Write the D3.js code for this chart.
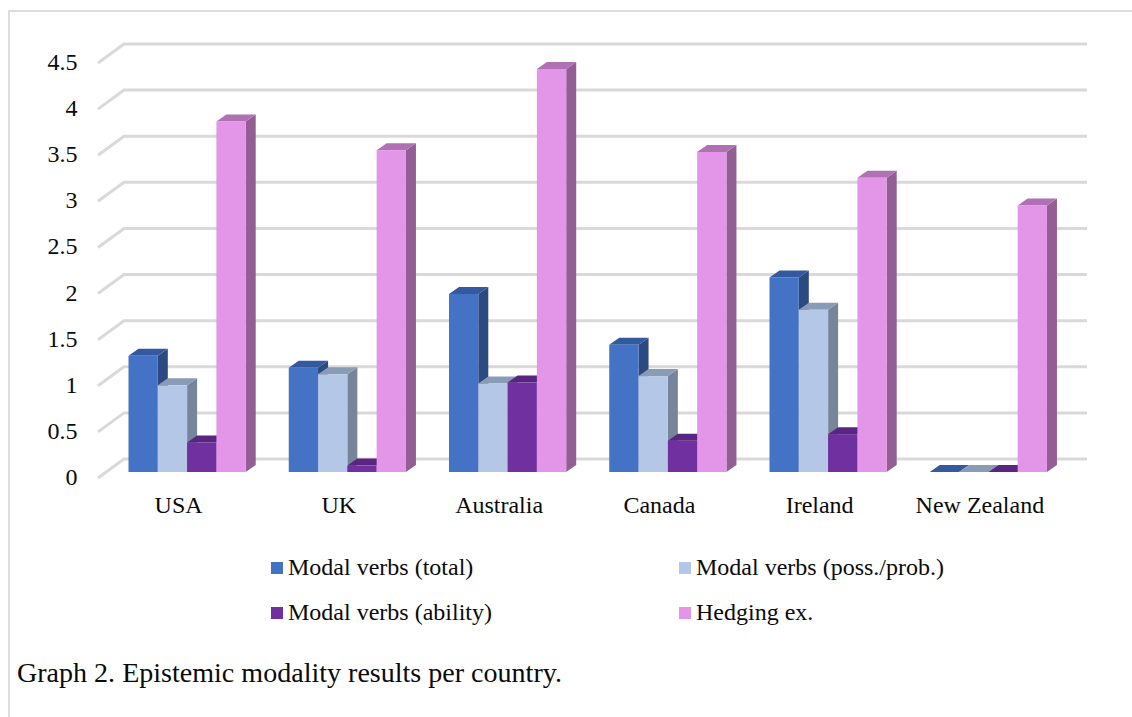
<!DOCTYPE html>
<html>
<head>
<meta charset="utf-8">
<script src="https://cdn.jsdelivr.net/npm/d3@7"></script>
<style>
  html, body { margin: 0; background: #fff; }
  text { font-family: "Liberation Serif", "Times New Roman", serif; fill: #0a0a0a; }
</style>
</head>
<body>
<svg id="chart" width="1132" height="717"></svg>
<script>
// Epistemic modality counts per country, one array per series
const countries = ["USA", "UK", "Australia", "Canada", "Ireland", "New Zealand"];
const modalTotal = [1.26, 1.13, 1.93, 1.38, 2.11, 0];
const modalPossProb = [0.94, 1.06, 0.96, 1.04, 1.76, 0];
const modalAbility = [0.32, 0.07, 0.97, 0.34, 0.41, 0];
const hedging = [3.80, 3.49, 4.37, 3.47, 3.19, 2.89];
const yTicks = [0, 0.5, 1, 1.5, 2, 2.5, 3, 3.5, 4, 4.5];
const seriesNames = ["Modal verbs (total)", "Modal verbs (poss./prob.)", "Modal verbs (ability)", "Hedging ex."];
const seriesValues = [modalTotal, modalPossProb, modalAbility, hedging];
const frontColors = ["#4472c4", "#b4c7e7", "#7030a0", "#e395e8"];
const topColors = ["#335a9e", "#8a9bb5", "#5a2580", "#b071b4"];
const sideColors = ["#2b4a82", "#76859a", "#4e206f", "#925e94"];
const caption = "Graph 2. Epistemic modality results per country.";

const svg = d3.select("#chart");

// Outer frame: only the top and left edges fall inside the page
svg.append("path")
  .attr("d", "M9,717V11H1132")
  .attr("fill", "none")
  .attr("stroke", "#dcdcdc")
  .attr("stroke-width", 2);

// Bar front faces stand on y = 472; the wall and floor sit behind them
const y = d3.scaleLinear().domain([0, 4.5]).range([472, 57]);
const x = d3.scaleBand().domain(countries).range([98, 1059.5]);
const groupInset = 30.5;
const inner = d3.scaleBand().domain(d3.range(seriesNames.length))
  .range([groupInset, groupInset + 117.2]);
const barDepthX = 10, barDepthY = 7;
const wallDepthX = 26, wallBackY = -13, wallFrontY = 6, wallRight = 1087;

// Gridlines fold from the floor edge back onto the wall
const grid = svg.append("g").attr("fill", "none");
grid.selectAll("path").data(yTicks).join("path")
  .attr("d", t => d3.line()([
    [x.range()[0], y(t) + wallFrontY],
    [x.range()[0] + wallDepthX, y(t) + wallBackY],
    [wallRight, y(t) + wallBackY]
  ]))
  .attr("stroke", "#d9d9d9")
  .attr("stroke-width", 3);

// Value labels on the left
svg.append("g").selectAll("text").data(yTicks).join("text")
  .attr("x", 77.5)
  .attr("y", t => y(t) + 13)
  .attr("text-anchor", "end")
  .attr("font-size", 24)
  .text(t => t);

// Extruded bars, drawn left to right so each one covers its neighbour's side
const polygon = pts => d3.line()(pts) + "Z";
countries.forEach((country, c) => {
  const g = svg.append("g");
  seriesValues.forEach((values, s) => {
    const x0 = x(country) + inner(s);
    const x1 = x0 + inner.bandwidth();
    const yTop = y(values[c]);
    const yBase = y(0);
    g.append("path").attr("fill", sideColors[s]).attr("d", polygon([
      [x1, yTop], [x1 + barDepthX, yTop - barDepthY],
      [x1 + barDepthX, yBase - barDepthY], [x1, yBase]
    ]));
    g.append("path").attr("fill", topColors[s]).attr("d", polygon([
      [x0, yTop], [x0 + barDepthX, yTop - barDepthY],
      [x1 + barDepthX, yTop - barDepthY], [x1, yTop]
    ]));
    g.append("rect").attr("fill", frontColors[s])
      .attr("x", x0).attr("y", yTop)
      .attr("width", inner.bandwidth()).attr("height", yBase - yTop);
  });
});

// Country names under the floor
svg.append("g").selectAll("text").data(countries).join("text")
  .attr("x", d => x(d) + x.bandwidth() / 2 + 0.5)
  .attr("y", 513)
  .attr("text-anchor", "middle")
  .attr("font-size", 24)
  .text(d => d);

// Two-column legend
const legendCols = [271, 679], legendRows = [562, 607];
const legend = svg.append("g").selectAll("g").data(seriesNames).join("g")
  .attr("transform", (d, i) => `translate(${legendCols[i % 2]},${legendRows[Math.floor(i / 2)]})`);
legend.append("rect")
  .attr("width", 12).attr("height", 12)
  .attr("fill", (d, i) => frontColors[i]);
legend.append("text")
  .attr("x", 17).attr("y", 13)
  .attr("font-size", 24)
  .text(d => d);

// Caption
svg.append("text")
  .attr("x", 17).attr("y", 682)
  .attr("font-size", 28.05)
  .text(caption);
</script>
</body>
</html>
